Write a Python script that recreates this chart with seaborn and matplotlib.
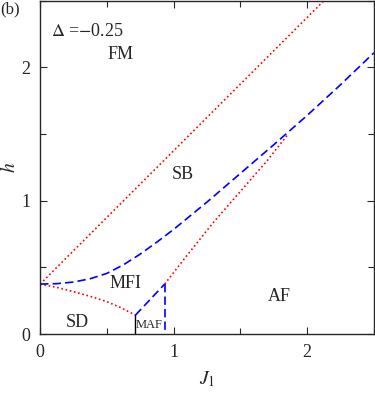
import numpy as np
import pandas as pd
import matplotlib
matplotlib.use("Agg")
import matplotlib.pyplot as plt
from matplotlib.ticker import MultipleLocator
import seaborn as sns

# phase boundaries (J1, h)
fm_j = [0.0, 2.125]
fm_h = [0.375, 2.5]

sb_j = [0.0, 0.125, 0.25, 0.375, 0.5, 0.625, 0.75, 0.875, 1.0, 1.25, 1.5, 1.75, 2.0, 2.25, 2.5]
sb_h = [0.375, 0.378, 0.39, 0.415, 0.455, 0.52, 0.60, 0.69, 0.785, 0.99, 1.205, 1.42, 1.64, 1.87, 2.11]

sd_j = [0.0, 0.125, 0.25, 0.375, 0.5, 0.6, 0.714]
sd_h = [0.375, 0.35, 0.318, 0.283, 0.243, 0.20, 0.142]

af_j = [0.933, 1.1, 1.3, 1.5, 1.7, 1.85]
af_h = [0.375, 0.59, 0.84, 1.07, 1.30, 1.49]

maf_j = [0.714, 0.933]
maf_h = [0.142, 0.375]

vert_blue_j = [0.933, 0.933]
vert_blue_h = [0.375, 0.0]
vert_black_j = [0.714, 0.714]
vert_black_h = [0.142, 0.0]

labels = ["FM", "SB", "MFI", "SD", "AF"]
label_j = [0.6, 1.07, 0.64, 0.28, 1.79]
label_h = [2.1, 1.2, 0.38, 0.09, 0.28]

sns.set_style("ticks")
plt.rcParams["font.family"] = ["Liberation Serif", "DejaVu Serif"]
plt.rcParams["mathtext.fontset"] = "stix"

fig = plt.figure(figsize=(3.75, 3.93), dpi=100)
ax = fig.add_axes([0.107, 0.150, 0.890, 0.848])

red = dict(color="red", linestyle=(0, (1, 1.6)), linewidth=1.2)
blue = dict(color="blue", linestyle=(0, (5, 2.5)), linewidth=1.2)

def line(xs, ys, style):
    sns.lineplot(x=xs, y=ys, ax=ax, sort=False, estimator=None, **style)

line(fm_j, fm_h, red)
line(sd_j, sd_h, red)
line(af_j, af_h, red)
line(sb_j, sb_h, blue)
line(maf_j, maf_h, blue)
line(vert_blue_j, vert_blue_h, blue)
line(vert_black_j, vert_black_h, dict(color="black", linewidth=1.0))

for t, xx, yy in zip(labels, label_j, label_h):
    ax.text(xx, yy, t, fontsize=13, ha="center", va="center")
ax.text(0.82, 0.07, "MAF", fontsize=9, ha="center", va="center")
ax.text(0.08, 2.27, r"$\Delta$ =$-$0.25", fontsize=13, ha="left", va="center")
fig.text(0.0, 0.975, "(b)", fontsize=12, ha="left", va="center")

ax.set_xlim(0, 2.5)
ax.set_ylim(0, 2.5)
ax.xaxis.set_major_locator(MultipleLocator(1))
ax.yaxis.set_major_locator(MultipleLocator(1))
ax.xaxis.set_minor_locator(MultipleLocator(0.5))
ax.yaxis.set_minor_locator(MultipleLocator(0.5))
ax.tick_params(which="both", direction="in", top=True, right=True, labelsize=13, width=0.8)
ax.tick_params(which="major", length=5, pad=7)
ax.tick_params(which="minor", length=4)
for s in ax.spines.values():
    s.set_linewidth(1.0)

ax.set_xlabel(r"$J_1$", fontsize=14, labelpad=6)
ax.set_ylabel(r"$h$", fontsize=14)
ax.yaxis.set_label_coords(-0.062, 0.5)

fig.savefig("out.png", dpi=100)
